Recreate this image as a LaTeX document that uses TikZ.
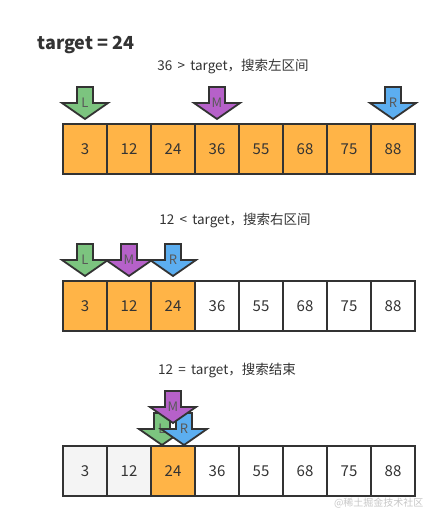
\documentclass[tikz,border=0pt]{standalone}
\usepackage{fontspec}
\setmainfont{Noto Sans CJK SC}
\usetikzlibrary{positioning}

\definecolor{cellorange}{HTML}{FFB447}
\definecolor{cellgray}{HTML}{F4F4F4}
\definecolor{ptrgreen}{HTML}{7CC47F}
\definecolor{ptrpurple}{HTML}{B661C9}
\definecolor{ptrblue}{HTML}{5CAEF0}
\definecolor{edge}{HTML}{333333}

\tikzset{
  cell/.style={draw=edge, line width=2.5pt, minimum width=44pt, minimum height=50pt,
    inner sep=0pt, font=\fontsize{15}{18}\selectfont, text=black!80},
  ptrshape/.style={draw=edge, line width=1.8pt, line join=miter},
  ptrlabel/.style={font=\fontsize{13}{15}\selectfont, text=black!65, inner sep=0pt},
  caption/.style={font=\fontsize{13.5}{16}\selectfont, text=black!80},
}

% pointer arrow: name, tip x, tip y, colour, letter
\newcommand{\pointer}[5]{%
  \coordinate (#1) at (#2,#3);
  \draw[ptrshape, fill=#4] (#1) -- ++(-23,-16) -- ++(15,0) -- ++(0,-16) -- ++(16,0)
    -- ++(0,16) -- ++(15,0) -- cycle;
  \node[ptrlabel] (#1-txt) at ([yshift=16pt]#1) {#5};
}

\begin{document}
\begin{tikzpicture}[x=1pt, y=-1pt]
    \useasboundingbox (0,0) rectangle (440,521);
    \node[anchor=west, font=\bfseries\fontsize{18}{21}\selectfont, text=black!80] (title) at (34,45) {target = 24};

    % Step 1
    \node[caption] (cap1) at (233,67) {36 \,>\, target，搜索左区间};
    \foreach \v [count=\i] in {3,12,24,36,55,68,75,88} {
        \node[cell, fill=cellorange] (a\i) at (41+44*\i,149) {\v};
    }
    \pointer{L1}{85}{119}{ptrgreen}{L}
    \pointer{M1}{217}{119}{ptrpurple}{M}
    \pointer{R1}{393}{119}{ptrblue}{R}

    % Step 2
    \node[caption] (cap2) at (235,221) {12 \,<\, target，搜索右区间};
    \foreach \v/\c [count=\i] in {3/cellorange,12/cellorange,24/cellorange,36/white,55/white,68/white,75/white,88/white} {
        \node[cell, fill=\c] (b\i) at (41+44*\i,306) {\v};
    }
    \pointer{L2}{85}{276}{ptrgreen}{L}
    \pointer{M2}{129}{276}{ptrpurple}{M}
    \pointer{R2}{173}{276}{ptrblue}{R}

    % Step 3
    \node[caption] (cap3) at (227,371) {12 \,=\, target，搜索结束};
    \foreach \v/\c [count=\i] in {3/cellgray,12/cellgray,24/cellorange,36/white,55/white,68/white,75/white,88/white} {
        \node[cell, fill=\c] (c\i) at (41+44*\i,471) {\v};
    }
    \pointer{L3}{162}{445}{ptrgreen}{L}
    \pointer{R3}{184}{445}{ptrblue}{R}
    \pointer{M3}{173}{423}{ptrpurple}{M}

    \node[anchor=east, font=\fontsize{10}{12}\selectfont, text=black!22] (mark) at (427,503) {@稀土掘金技术社区};
\end{tikzpicture}
\end{document}
